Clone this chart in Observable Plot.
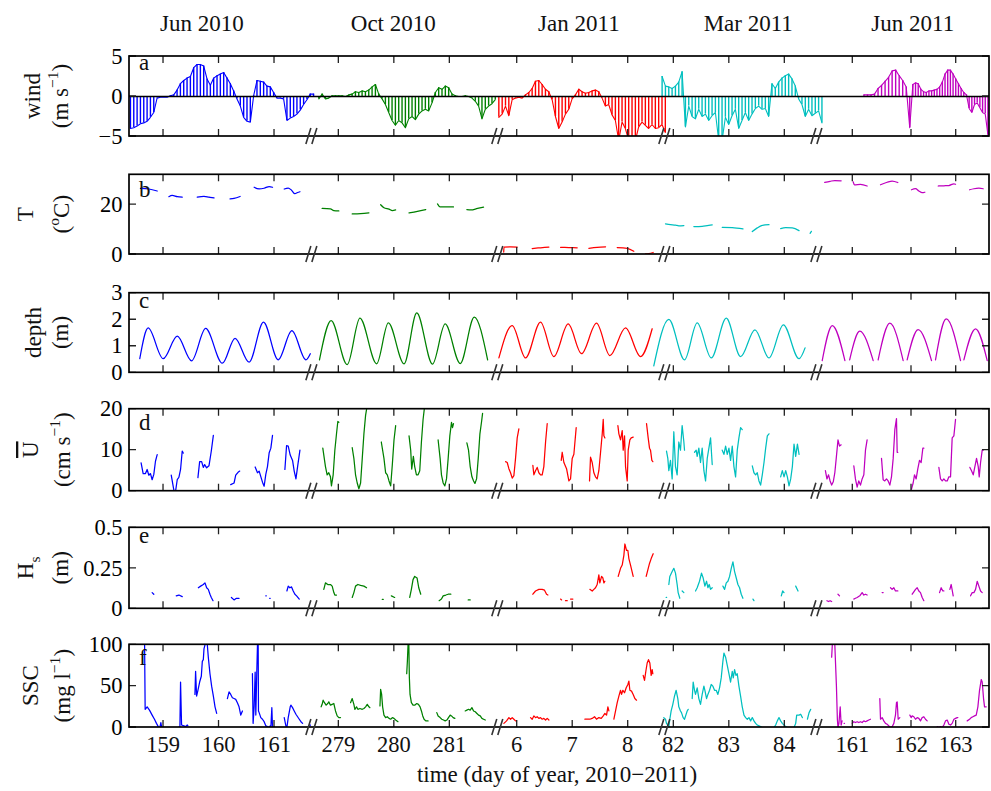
<!DOCTYPE html>
<html><head><meta charset="utf-8">
<script src="https://cdn.jsdelivr.net/npm/d3@7"></script>
<script src="https://cdn.jsdelivr.net/npm/@observablehq/plot@0.6"></script>
<style>
body{margin:0;background:#fff;}
#chart{position:relative;width:991px;height:791px;}
#chart svg{position:absolute;left:0;top:0;}
</style></head><body><div id="chart"></div>
<script>
// ---------------- categories / ticks ----------------
const deployments = ["Jun 2010", "Oct 2010", "Jan 2011", "Mar 2011", "Jun 2011"];
const colors = ["#0000ff", "#008000", "#ff0000", "#00bfbf", "#bf00bf"];
const tickDays = [[159,160,161],[279,280,281],[6,7,8],[82,83,84],[161,162,163]];
const labelDays = [159.70, 279.99, 7.12, 83.35, 162.04];

// ---------------- wind (m/s), regular samples ----------------
const windStart = [158.404, 278.639, 5.669, 81.789, 161.19];
const windStep = 0.06;
const windBlue = [-4.0,-3.9,-3.7,-3.4,-3.3,-3.1,-2.6,-2.0,-0.2,-0.1,-0.1,-0.1,0.1,0.2,0.8,1.6,2.0,2.3,2.5,3.6,4.0,4.0,3.8,2.2,1.4,2.3,2.6,2.8,3.0,2.3,1.6,0.7,-0.3,-1.2,-2.6,-3.1,-3.2,0.1,2.0,1.9,1.8,1.3,1.2,0.5,-0.2,-0.2,-0.3,-3.0,-2.7,-2.5,-2.2,-1.7,-1.0,-0.4,0.3,0.3];
const windGreen = [-0.3,0.3,-0.3,-0.2,0.1,0.1,0.1,0.1,0.0,0.2,0.3,0.6,0.5,0.7,0.6,0.8,1.2,1.5,0.3,-0.3,-1.0,-2.0,-3.0,-3.6,-3.0,-3.3,-3.9,-2.8,-2.5,-2.9,-2.2,-1.8,-1.6,-1.8,-0.8,0.5,1.1,0.9,1.3,1.1,0.3,0.1,0.0,0.0,0.1,0.0,-0.2,-0.6,-1.2,-2.8,-1.6,-1.2,-0.9,-0.4];
const windRed = [-2.6,-2.2,-1.2,-2.4,-0.4,-0.2,-0.1,-0.2,0.2,0.5,1.0,1.9,2.0,1.5,0.9,0.6,-0.4,-2.5,-4.0,-3.2,-2.2,-1.6,-0.3,0.2,0.9,0.6,0.4,0.5,0.7,0.8,0.6,-0.2,-1.2,-1.0,-2.3,-3.0,-5.5,-3.2,-4.0,-5.5,-5.5,-5.5,-3.8,-3.2,-3.6,-4.0,-3.5,-4.0,-3.9,-3.5,-4.5];
const windCyan = [2.5,1.3,1.2,1.0,1.3,1.8,3.1,-3.8,-1.2,-2.5,-2.8,-1.6,-2.5,-2.2,-3.0,-2.4,-2.0,-5.5,-5.5,-2.6,-3.5,-2.4,-1.6,-4.0,-3.0,-2.0,-3.0,-2.2,-1.5,-1.2,-1.6,-1.5,-2.5,1.6,1.0,1.8,2.3,2.6,2.8,2.2,1.3,-0.3,-1.0,-2.5,-1.6,-2.4,-2.1,-1.8,-3.3];
const windMagenta = [0.2,0.2,0.2,0.3,1.0,1.4,1.9,2.4,3.2,3.3,2.6,2.0,1.2,-3.9,1.5,1.7,1.6,0.9,0.6,0.5,0.7,0.7,0.8,0.9,1.2,1.8,2.8,3.3,3.3,2.8,2.2,1.6,1.0,0.5,0.2,-1.5,-2.0,-1.0,-0.8,-1.4,-2.0,-2.2,-4.8];

// ---------------- temperature (degC): bursts of [day, value] ----------------
const tempBlue = [
 [[158.584,26.5],[158.735,26.3],[158.886,25.5]],
 [[159.096,23.2],[159.157,23.7],[159.247,23.2],[159.337,23.0]],
 [[159.608,23.0],[159.729,23.3],[159.819,23.0],[159.910,22.7]],
 [[160.199,22.3],[160.271,22.5],[160.380,23.3]],
 [[160.633,27.0],[160.723,26.3],[160.813,26.6],[160.904,27.3],[160.964,27.0]],
 [[161.175,26.3],[161.247,26.7],[161.307,25.8],[161.367,24.4],[161.416,24.9],[161.458,25.2]]];
const tempGreen = [
 [[278.699,18.5],[278.849,18.3],[278.910,17.6],[279.0,17.5]],
 [[279.241,16.3],[279.392,16.4],[279.542,16.7]],
 [[279.753,20.0],[279.813,18.8],[279.904,18.2],[279.964,17.6],[280.024,17.9]],
 [[280.265,16.7],[280.416,17.3],[280.566,18.0]],
 [[280.777,20.3],[280.825,19.1],[280.928,19.1],[281.066,19.1]],
 [[281.307,18.0],[281.380,17.9],[281.5,18.5],[281.608,19.0]]];
const tempRed = [
 [[5.757,1.0],[5.762,3.0],[5.880,3.1],[6.0,3.0]],
 [[6.270,2.4],[6.420,2.7],[6.571,3.0]],
 [[6.781,2.9],[6.931,2.8],[7.081,2.7]],
 [[7.291,2.5],[7.441,2.9],[7.592,3.1]],
 [[7.802,2.8],[7.982,2.5],[8.102,1.3]],
 [[8.312,0.3],[8.372,0.4],[8.450,0.8]]];
const tempCyan = [
 [[81.850,12.3],[81.940,12.0],[82.030,11.8],[82.090,11.5],[82.181,11.6]],
 [[82.361,11.2],[82.511,11.3],[82.602,11.6],[82.692,11.9]],
 [[82.872,10.9],[83.053,10.8],[83.246,10.3]],
 [[83.414,9.2],[83.504,10.7],[83.594,11.7],[83.715,12.0]],
 [[83.925,10.4],[84.016,10.8],[84.136,10.7],[84.256,9.6]],
 [[84.455,8.5],[84.479,9.3]]];
const tempMagenta = [
 [[160.494,29.0],[160.591,29.4],[160.676,29.7],[160.790,29.6]],
 [[161.006,29.2],[161.028,28.0],[161.131,28.2],[161.244,27.5]],
 [[161.472,28.0],[161.585,29.0],[161.670,29.5],[161.767,28.9]],
 [[162.0,26.0],[162.090,26.4],[162.164,25.5],[162.239,24.8],[162.299,25.0]],
 [[162.597,27.5],[162.724,27.6],[162.836,27.7],[162.948,28.4],[162.985,28.2]],
 [[163.299,26.0],[163.396,26.4],[163.507,26.6],[163.604,26.4]]];

// ---------------- depth (m): tidal highs and lows ----------------
const depthBlue = [[[158.572,0.53],[158.723,1.69],[158.994,0.53],[159.247,1.38],[159.506,0.45],[159.759,1.67],[160.060,0.36],[160.289,1.30],[160.542,0.40],[160.801,1.91],[161.066,0.49],[161.313,1.59],[161.566,0.49],[161.645,0.72]]];
const depthGreen = [[[278.651,0.49],[278.861,1.97],[279.151,0.31],[279.380,2.06],[279.681,0.34],[279.892,1.88],[280.175,0.34],[280.404,2.26],[280.687,0.33],[280.916,1.84],[281.187,0.35],[281.440,2.10],[281.681,0.49]]];
const depthRed = [[[5.670,0.56],[5.910,1.78],[6.150,0.56],[6.420,1.91],[6.661,0.61],[6.919,1.84],[7.159,0.72],[7.429,1.87],[7.670,0.65],[7.952,1.69],[8.222,0.61],[8.432,1.66]]];
const depthCyan = [[[81.639,0.26],[81.910,2.01],[82.193,0.49],[82.421,1.88],[82.674,0.56],[82.945,2.06],[83.203,0.61],[83.462,1.62],[83.715,0.56],[83.974,1.81],[84.256,0.53],[84.365,0.94]]];
const depthMagenta = [
 [[160.449,0.46],[160.631,1.78],[160.858,0.46]],
 [[160.943,0.49],[161.119,1.57],[161.347,0.46]],
 [[161.432,0.49],[161.631,1.87],[161.858,0.46]],
 [[161.926,0.49],[162.149,1.63],[162.448,0.46]],
 [[162.537,0.49],[162.776,2.03],[163.097,0.46]],
 [[163.172,0.49],[163.433,1.66],[163.694,0.46]]];

// ---------------- depth-mean current U (cm/s) ----------------
const uBlue = [
 [[158.596,6.9],[158.633,4.3],[158.675,4.3],[158.705,5.3],[158.735,3.9],[158.765,4.3],[158.795,2.8],[158.825,4.1],[158.855,7.3],[158.886,8.9]],
 [[159.139,3.9],[159.187,0.2],[159.217,0.0],[159.247,2.8],[159.277,3.4],[159.307,5.3],[159.337,9.8],[159.355,9.3]],
 [[159.620,3.3],[159.651,7.2],[159.687,7.2],[159.717,5.8],[159.741,6.5],[159.777,5.7],[159.819,6.2],[159.861,9.8],[159.898,13.6]],
 [[160.211,1.6],[160.271,2.0],[160.301,3.9],[160.343,4.6],[160.373,4.9]],
 [[160.651,5.9],[160.693,4.5],[160.723,4.9],[160.783,2.2],[160.813,1.2],[160.843,4.1],[160.873,6.0],[160.904,9.4],[160.934,10.5],[160.964,13.6]],
 [[161.187,5.3],[161.217,11.1],[161.247,11.0],[161.283,8.8],[161.325,7.5],[161.355,4.9],[161.386,3.0],[161.416,6.0],[161.458,10.0]]];
const uGreen = [
 [[278.711,10.5],[278.759,6.0],[278.789,4.0],[278.819,4.5],[278.849,3.5],[278.867,1.3],[278.898,4.0],[278.928,10.0],[278.958,14.0],[278.982,17.0],[279.0,16.8]],
 [[279.241,10.6],[279.271,8.0],[279.301,4.0],[279.331,2.0],[279.361,0.6],[279.392,2.0],[279.422,8.0],[279.452,14.0],[279.482,18.5],[279.512,21.0]],
 [[279.765,12.0],[279.813,8.0],[279.843,4.5],[279.873,4.0],[279.904,2.5],[279.934,1.3],[279.964,6.5],[279.994,12.5],[280.024,16.0]],
 [[280.265,13.5],[280.295,10.0],[280.313,5.4],[280.343,8.5],[280.367,6.0],[280.398,4.0],[280.428,4.0],[280.458,5.0],[280.488,12.0],[280.518,17.5],[280.548,21.0]],
 [[280.789,12.5],[280.825,8.0],[280.849,4.0],[280.880,2.0],[280.910,1.3],[280.940,3.0],[280.970,8.0],[281.0,13.5],[281.030,16.8],[281.048,15.5],[281.066,16.5]],
 [[281.307,11.8],[281.337,10.0],[281.367,6.0],[281.398,3.5],[281.428,2.5],[281.452,1.9],[281.482,3.0],[281.512,8.0],[281.542,14.0],[281.572,17.0],[281.590,19.0]]];
const uRed = [
 [[5.790,7.2],[5.820,7.0],[5.850,5.5],[5.880,4.5],[5.910,3.2],[5.940,3.8],[5.970,8.0],[6.0,13.0],[6.030,15.2]],
 [[6.282,6.3],[6.300,4.0],[6.330,5.0],[6.360,5.8],[6.390,4.5],[6.420,4.0],[6.450,4.0],[6.480,6.0],[6.511,12.0],[6.541,16.5]],
 [[6.793,7.5],[6.811,9.5],[6.841,7.0],[6.889,5.5],[6.931,2.5],[6.961,3.0],[6.991,8.0],[7.021,9.0],[7.063,15.5]],
 [[7.303,2.5],[7.321,8.3],[7.351,7.0],[7.381,4.5],[7.411,3.5],[7.441,3.0],[7.471,5.0],[7.502,9.5],[7.532,14.0],[7.550,17.5],[7.562,13.5],[7.580,13.0]],
 [[7.814,16.0],[7.832,14.0],[7.862,12.5],[7.892,14.8],[7.910,10.0],[7.934,13.5],[7.952,6.0],[7.982,2.5],[8.0,10.0],[8.030,12.5],[8.054,13.0],[8.090,13.2]],
 [[8.330,16.5],[8.360,13.0],[8.384,10.5],[8.402,10.0],[8.426,7.5],[8.444,7.2]]];
const uCyan = [
 [[81.868,9.8],[81.892,8.0],[81.910,5.0],[81.940,7.5],[81.970,3.0],[82.0,14.5],[82.030,6.0],[82.060,4.0],[82.090,12.0],[82.120,10.0],[82.150,16.0],[82.181,12.0],[82.193,10.0]],
 [[82.373,9.5],[82.403,10.0],[82.421,8.5],[82.451,10.5],[82.481,7.0],[82.511,10.5],[82.542,5.0],[82.572,2.5],[82.602,8.0],[82.632,10.5],[82.662,13.0],[82.692,6.5]],
 [[82.872,10.0],[82.903,9.0],[82.933,11.0],[82.963,9.0],[82.993,10.5],[83.023,7.5],[83.053,11.0],[83.083,6.0],[83.113,3.5],[83.143,10.0],[83.173,13.0],[83.203,15.5],[83.233,15.0]],
 [[83.414,6.2],[83.444,4.5],[83.474,4.0],[83.504,4.5],[83.534,2.5],[83.564,1.5],[83.594,4.0],[83.625,7.0],[83.655,10.5],[83.685,13.5],[83.715,14.0]],
 [[83.925,3.5],[83.955,5.0],[83.986,3.5],[84.016,5.0],[84.046,3.5],[84.076,1.3],[84.106,3.0],[84.136,6.0],[84.166,11.5],[84.196,8.5],[84.227,11.5],[84.257,9.0]]];
const uMagenta = [
 [[160.506,5.0],[160.534,3.0],[160.563,4.0],[160.591,2.5],[160.619,1.5],[160.648,2.3],[160.676,4.5],[160.705,8.5],[160.733,12.5],[160.761,11.0],[160.790,11.3]],
 [[161.017,6.2],[161.045,3.0],[161.074,1.0],[161.102,2.5],[161.131,1.5],[161.159,3.0],[161.188,4.0],[161.216,10.0],[161.244,12.5]],
 [[161.489,8.0],[161.517,2.8],[161.545,2.5],[161.574,3.0],[161.602,2.5],[161.631,1.5],[161.659,3.5],[161.688,8.0],[161.716,15.0],[161.744,17.7],[161.756,9.5],[161.767,9.5]],
 [[162.0,0.5],[162.037,2.0],[162.067,4.0],[162.104,3.0],[162.142,5.5],[162.179,7.5],[162.216,7.0],[162.254,10.5],[162.276,10.5]],
 [[162.612,5.8],[162.649,3.0],[162.687,2.5],[162.724,3.0],[162.761,2.5],[162.799,2.5],[162.836,3.5],[162.873,3.5],[162.910,13.0],[162.948,13.5],[162.985,17.5]],
 [[163.306,5.8],[163.343,5.0],[163.381,4.0],[163.418,6.0],[163.455,8.0],[163.493,6.0],[163.515,3.5],[163.545,7.0],[163.582,10.0],[163.604,10.0]]];

// ---------------- significant wave height Hs (m) ----------------
const hsBlue = [
 [[158.795,0.10],[158.825,0.09]],
 [[159.229,0.08],[159.277,0.085],[159.337,0.075]],
 [[159.627,0.13],[159.669,0.14],[159.717,0.15],[159.747,0.16],[159.777,0.13],[159.807,0.12],[159.837,0.09],[159.861,0.07],[159.892,0.05]],
 [[160.223,0.07],[160.271,0.055],[160.313,0.065],[160.361,0.065]],
 [[160.843,0.08],[160.852,0.08]],
 [[160.913,0.065],[160.922,0.065]],
 [[161.223,0.11],[161.247,0.14],[161.277,0.13],[161.307,0.135],[161.337,0.11],[161.367,0.09],[161.398,0.08],[161.446,0.06]]];
const hsGreen = [
 [[278.729,0.12],[278.759,0.16],[278.801,0.15],[278.849,0.15],[278.880,0.14],[278.910,0.10],[278.928,0.085],[278.958,0.085]],
 [[279.241,0.07],[279.271,0.10],[279.301,0.14],[279.343,0.15],[279.392,0.145],[279.452,0.14],[279.500,0.13]],
 [[279.783,0.058],[279.800,0.058]],
 [[279.946,0.08],[280.006,0.07]],
 [[280.277,0.07],[280.307,0.12],[280.337,0.18],[280.367,0.20],[280.410,0.19],[280.440,0.13],[280.476,0.09]],
 [[280.807,0.05],[280.849,0.06],[280.880,0.08],[280.928,0.085],[280.970,0.09],[281.018,0.09]],
 [[281.331,0.055],[281.367,0.055]]];
const hsRed = [
 [[6.282,0.09],[6.330,0.11],[6.390,0.12],[6.450,0.12],[6.492,0.115],[6.529,0.09],[6.553,0.085]],
 [[6.781,0.06],[6.800,0.055]],
 [[6.870,0.05],[6.901,0.05]],
 [[6.961,0.06],[7.003,0.06]],
 [[7.309,0.12],[7.351,0.11],[7.381,0.12],[7.411,0.13],[7.441,0.15],[7.471,0.21],[7.489,0.16],[7.520,0.2],[7.544,0.19],[7.562,0.16],[7.580,0.17]],
 [[7.820,0.2],[7.862,0.25],[7.892,0.27],[7.922,0.33],[7.940,0.40],[7.970,0.36],[7.994,0.36],[8.012,0.31],[8.042,0.27],[8.090,0.2]],
 [[8.324,0.2],[8.354,0.24],[8.384,0.28],[8.414,0.31],[8.450,0.34]]];
const hsCyan = [
 [[81.862,0.07],[81.870,0.07]],
 [[81.910,0.15],[81.928,0.2],[81.970,0.23],[82.0,0.25],[82.030,0.22],[82.060,0.15],[82.078,0.1],[82.108,0.065]],
 [[82.150,0.11],[82.181,0.1]],
 [[82.391,0.11],[82.421,0.13],[82.463,0.17],[82.499,0.22],[82.529,0.19],[82.560,0.14],[82.590,0.17],[82.614,0.13],[82.638,0.15],[82.662,0.12],[82.692,0.13]],
 [[82.884,0.14],[82.915,0.12],[82.945,0.16],[82.975,0.17],[83.005,0.2],[83.035,0.25],[83.065,0.29],[83.095,0.23],[83.125,0.19],[83.155,0.15],[83.185,0.13],[83.215,0.09],[83.245,0.065]],
 [[83.426,0.06],[83.444,0.05]],
 [[83.937,0.08],[83.961,0.11],[83.986,0.1]],
 [[84.196,0.14],[84.238,0.11]]];
const hsMagenta = [
 [[160.534,0.05],[160.563,0.045],[160.591,0.05],[160.619,0.045]],
 [[160.733,0.09],[160.761,0.08]],
 [[161.017,0.06],[161.045,0.065],[161.074,0.07],[161.119,0.08],[161.159,0.1],[161.188,0.085],[161.216,0.09],[161.244,0.085]],
 [[161.500,0.1],[161.517,0.1]],
 [[161.642,0.13],[161.670,0.12],[161.699,0.13],[161.727,0.11],[161.767,0.11]],
 [[162.015,0.09],[162.052,0.105],[162.090,0.12],[162.127,0.13],[162.164,0.11],[162.201,0.1],[162.239,0.07],[162.276,0.05]],
 [[162.627,0.1],[162.664,0.13],[162.701,0.11],[162.724,0.11]],
 [[162.858,0.12],[162.888,0.15],[162.933,0.08]],
 [[163.321,0.08],[163.358,0.1],[163.396,0.1],[163.433,0.12],[163.470,0.17],[163.507,0.14],[163.545,0.11],[163.582,0.1]]];

// ---------------- suspended sediment concentration (mg/l) ----------------
const sscBlue = [
 [[158.657,115],[158.669,22],[158.705,25],[158.747,21],[158.795,15],[158.837,10],[158.873,5],[158.910,0.5],[158.934,0],[158.952,6],[158.964,1]],
 [[159.277,0.5],[159.295,0],[159.307,55],[159.325,3],[159.367,2],[159.398,1],[159.428,3],[159.440,2]],
 [[159.566,40],[159.578,68],[159.596,38],[159.620,45],[159.651,55],[159.681,62],[159.699,80],[159.717,82],[159.729,95],[159.747,100],[159.771,110],[159.789,100],[159.807,85],[159.837,65],[159.867,50],[159.898,38],[159.928,25],[159.958,17]],
 [[160.151,35],[160.181,43],[160.211,40],[160.241,36],[160.271,35],[160.301,34],[160.331,30],[160.361,25],[160.392,15],[160.422,20]],
 [[160.602,65],[160.614,5],[160.633,25],[160.651,67],[160.663,15],[160.681,68],[160.693,100],[160.705,110],[160.711,20],[160.723,18],[160.753,12],[160.783,10],[160.813,7],[160.843,2],[160.873,1],[160.892,0],[160.922,2],[160.934,0],[160.952,24],[160.964,0],[160.982,0],[160.994,1]],
 [[161.175,12],[161.205,2],[161.223,0],[161.247,12],[161.283,25],[161.295,27],[161.325,24],[161.355,20],[161.386,16],[161.416,13],[161.446,10],[161.476,7],[161.506,5]],
 [[161.626,0.5],[161.645,3]]];
const sscGreen = [
 [[278.681,25],[278.699,28],[278.717,33],[278.741,30],[278.771,27],[278.801,29],[278.819,31],[278.849,27],[278.880,28],[278.910,29],[278.940,20],[278.970,14],[279.0,12],[279.030,12]],
 [[279.211,30],[279.241,35],[279.271,28],[279.289,22],[279.319,25],[279.343,22],[279.380,23],[279.422,22],[279.452,23],[279.482,25],[279.512,28],[279.542,25],[279.560,24]],
 [[279.741,26],[279.753,46],[279.771,40],[279.789,25],[279.813,15],[279.843,12],[279.873,13],[279.904,11],[279.934,10],[279.964,12],[279.994,11],[280.024,9],[280.066,7]],
 [[280.223,65],[280.235,80],[280.247,100],[280.259,110],[280.271,60],[280.283,40],[280.307,30],[280.337,27],[280.367,27],[280.404,29],[280.434,28],[280.464,25],[280.488,20],[280.512,14],[280.536,10],[280.566,8],[280.608,8]],
 [[280.765,18],[280.789,14],[280.825,12],[280.855,10],[280.886,9],[280.916,8],[280.946,9],[280.976,12],[281.006,15],[281.030,14],[281.060,12],[281.090,11]],
 [[281.277,20],[281.307,21],[281.337,22],[281.367,21],[281.398,24],[281.428,20],[281.458,19],[281.488,17],[281.518,15],[281.548,14],[281.578,11],[281.608,10],[281.639,9]]];
const sscRed = [
 [[5.760,5],[5.808,8],[5.850,12],[5.880,10],[5.910,12],[5.940,10],[5.970,8],[5.988,8]],
 [[6.240,12],[6.270,10],[6.300,14],[6.330,12],[6.360,13],[6.390,11],[6.420,12],[6.450,10],[6.480,11],[6.511,9],[6.541,11],[6.571,9]],
 [[7.219,10],[7.261,10],[7.309,10],[7.351,11],[7.393,13],[7.429,10],[7.471,12],[7.514,11],[7.550,14],[7.580,17],[7.610,15],[7.634,25],[7.652,20]],
 [[7.742,10],[7.772,20],[7.802,30],[7.832,38],[7.862,45],[7.880,40],[7.904,45],[7.934,42],[7.964,48],[7.994,52],[8.012,56],[8.030,45],[8.060,44],[8.090,40],[8.120,35],[8.150,33]],
 [[8.270,63],[8.294,57],[8.318,68],[8.342,78],[8.366,82],[8.390,78],[8.414,63],[8.432,70],[8.444,65]]];
const sscCyan = [
 [[81.819,12],[81.850,10],[81.868,5],[81.892,3],[81.910,0],[81.928,10],[81.952,20],[81.982,28],[82.012,38],[82.042,45],[82.072,35],[82.090,25],[82.120,20],[82.138,18],[82.168,12],[82.193,10],[82.217,15],[82.241,20],[82.259,22]],
 [[82.331,35],[82.349,55],[82.373,45],[82.391,40],[82.421,48],[82.451,35],[82.481,28],[82.511,40],[82.542,50],[82.560,45],[82.590,35],[82.614,40],[82.644,45],[82.674,52],[82.704,50],[82.734,45],[82.764,45],[82.794,40],[82.824,48],[82.854,60],[82.884,80],[82.903,90],[82.933,85],[82.963,75],[82.993,65],[83.023,55],[83.053,68],[83.071,60],[83.095,70],[83.119,63],[83.143,65],[83.173,50],[83.203,38],[83.233,25],[83.264,15],[83.294,12],[83.324,10],[83.354,12],[83.384,8],[83.414,12],[83.444,8],[83.474,5],[83.504,3],[83.534,2],[83.564,1],[83.594,0],[83.805,0],[83.835,3],[83.865,8],[83.895,12],[83.925,8],[83.955,5],[83.986,3],[84.016,1],[84.046,0],[84.166,0],[84.196,5],[84.214,15],[84.256,15],[84.286,16],[84.316,12]],
 [[84.407,10],[84.437,18],[84.467,22]]];
const sscMagenta = [
 [[160.619,85],[160.631,100],[160.648,110],[160.665,110],[160.676,100],[160.705,50],[160.722,10],[160.733,0],[160.750,5],[160.773,25],[160.790,3],[160.807,8]],
 [[160.843,5],[160.850,5]],
 [[160.989,5],[161.017,7],[161.045,6],[161.074,7],[161.102,6],[161.131,7],[161.159,6],[161.188,8],[161.216,7],[161.244,8],[161.273,9],[161.301,10]],
 [[161.460,35],[161.472,10],[161.500,12],[161.528,8],[161.557,5],[161.585,4],[161.614,2],[161.642,0],[161.670,1],[161.699,5],[161.727,15],[161.744,30],[161.756,31],[161.773,10],[161.801,12]],
 [[161.972,15],[161.994,12],[162.015,14],[162.052,13],[162.090,10],[162.127,12],[162.164,11],[162.201,8],[162.239,12],[162.276,13],[162.313,10],[162.351,8]],
 [[162.575,1],[162.612,0],[162.649,1],[162.687,0],[162.724,3],[162.761,8],[162.799,9],[162.836,4],[162.873,3],[162.910,5],[162.948,10],[162.985,11],[163.022,12],[163.037,12]],
 [[163.246,8],[163.299,10],[163.336,12],[163.373,13],[163.410,14],[163.448,15],[163.485,25],[163.522,45],[163.560,58],[163.582,55],[163.612,35],[163.634,25],[163.672,25]]];

// ---------------- layout (broken time axis) ----------------
const W = 991, H = 791;
const FONT = "'Liberation Serif','Times New Roman',Times,serif";
const axisShift = [0, -116.841, 159.373, 86.195, 10.420];   // places each deployment on the broken axis
const xDomain = [158.387, 171.42, 172.42, 173.42, 174.165];
const xRange = [129, 852.3, 911, 955.7, 989];
const breakAx = [161.70, 165.05, 168.06, 170.80];
const allTicksAx = tickDays.flatMap((ts, k) => ts.map(t => t + axisShift[k]));

const fmt = d => (d < 0 ? "\u2212" : "") + Math.abs(d);

function toRecords(bursts, k) {
  const out = [];
  bursts.forEach((b, j) => b.forEach(([t, v]) => out.push({ax: t + axisShift[k], v, z: j})));
  return out;
}

function frameMark(yTicks) {
  return (index, scales, values, dims) => {
    const x = scales.x, y = scales.y;
    const L = dims.marginLeft, R = dims.width - dims.marginRight;
    const T = dims.marginTop, B = dims.height - dims.marginBottom;
    const g = d3.create("svg:g").attr("fill", "none").attr("stroke", "#000");
    let p = "";
    for (const t of allTicksAx) { const px = x(t); p += `M${px},${B}v-7M${px},${T}v7`; }
    for (const t of yTicks) { const py = y(t); p += `M${L},${py}h7M${R},${py}h-7`; }
    g.append("path").attr("d", p).attr("stroke-width", 1.3).attr("stroke", "#222");
    g.append("rect").attr("x", L).attr("y", T).attr("width", R - L).attr("height", B - T).attr("stroke-width", 1.7);
    let q = "";
    for (const b of breakAx) {
      const px = x(b);
      q += `M${px - 7},${B + 8}L${px - 2},${B - 8}M${px - 1},${B + 8}L${px + 4},${B - 8}`;
    }
    g.append("path").attr("d", q).attr("stroke", "#333").attr("stroke-width", 1.6);
    return g.node();
  };
}

const panels = [
  {top: 56, bottom: 136, domain: [-5, 5], ticks: [-5, 0, 5], wind: true,
   series: [windBlue, windGreen, windRed, windCyan, windMagenta]},
  {top: 174.3, bottom: 254, domain: [0, 32], ticks: [0, 20], curve: "monotone-x",
   series: [tempBlue, tempGreen, tempRed, tempCyan, tempMagenta]},
  {top: 292.7, bottom: 372.3, domain: [0, 3], ticks: [0, 1, 2, 3], curve: "monotone-x",
   series: [depthBlue, depthGreen, depthRed, depthCyan, depthMagenta]},
  {top: 408.7, bottom: 490.7, domain: [0, 20], ticks: [0, 10, 20],
   series: [uBlue, uGreen, uRed, uCyan, uMagenta]},
  {top: 527.3, bottom: 608.3, domain: [0, 0.5], ticks: [0, 0.25, 0.5],
   series: [hsBlue, hsGreen, hsRed, hsCyan, hsMagenta]},
  {top: 644.3, bottom: 727, domain: [0, 100], ticks: [0, 50, 100],
   series: [sscBlue, sscGreen, sscRed, sscCyan, sscMagenta]}
];

const root = document.getElementById("chart");
const plots = panels.map(p => {
  const marks = [];
  if (p.wind) {
    p.series.forEach((vals, k) => {
      const recs = vals.map((v, i) => ({ax: windStart[k] + i * windStep + axisShift[k], v}));
      marks.push(Plot.ruleX(recs, {x: "ax", y1: 0, y2: "v", stroke: colors[k], strokeWidth: 1.4, clip: true}));
      marks.push(Plot.line(recs, {x: "ax", y: "v", stroke: colors[k], strokeWidth: 1.1, clip: true}));
    });
    marks.push(Plot.ruleY([0], {stroke: "#000", strokeWidth: 1.6}));
  } else {
    p.series.forEach((bursts, k) => {
      marks.push(Plot.line(toRecords(bursts, k), {x: "ax", y: "v", z: "z", stroke: colors[k], strokeWidth: 1.25, curve: p.curve || "linear", clip: true}));
    });
  }
  marks.push(Plot.axisY({ticks: p.ticks, tickSize: 0, tickPadding: 7, tickFormat: fmt, fontSize: 22.5, label: null}));
  marks.push(frameMark(p.ticks));
  const plot = Plot.plot({
    width: W, height: H,
    marginTop: p.top, marginBottom: H - p.bottom, marginLeft: 129, marginRight: 2,
    x: {type: "linear", domain: xDomain, range: xRange, axis: null},
    y: {domain: p.domain, label: null},
    style: {fontFamily: FONT, background: "transparent", overflow: "visible"},
    marks
  });
  root.appendChild(plot);
  return plot;
});

// ---------------- text overlay ----------------
const xs = plots[0].scale("x");
const ov = d3.create("svg").attr("width", W).attr("height", H)
  .attr("font-family", FONT).attr("font-size", 23).attr("fill", "#111");

deployments.forEach((name, k) => {
  ov.append("text").attr("x", xs.apply(labelDays[k] + axisShift[k])).attr("y", 31)
    .attr("text-anchor", "middle").text(name);
});
tickDays.forEach((ts, k) => ts.forEach(t => {
  ov.append("text").attr("x", xs.apply(t + axisShift[k])).attr("y", 752)
    .attr("text-anchor", "middle").attr("font-size", 22.5).text(t);
}));
ov.append("text").attr("x", 557).attr("y", 782).attr("text-anchor", "middle")
  .text("time (day of year, 2010\u22122011)");

const letters = [["a", 70], ["b", 196.7], ["c", 308], ["d", 430], ["e", 543], ["f", 665]];
letters.forEach(([s, yb]) => ov.append("text").attr("x", 139).attr("y", yb).text(s));

function rich(sel, parts, fs) {
  let shift = 0;
  for (const [s, kind] of parts) {
    const t = sel.append("tspan").text(s);
    const target = kind === "sup" ? -0.42 * fs : kind === "sub" ? 0.3 * fs : 0;
    if (target !== shift) { t.attr("dy", target - shift); shift = target; }
    if (kind === "sup" || kind === "sub") t.attr("font-size", fs * 0.68);
    if (kind === "over") t.attr("text-decoration", "overline");
  }
}
const yLabels = [
  [[40, [["wind"]]], [68, [["(m s"], ["\u22121", "sup"], [")"]]]],
  [[33, [["T"]]], [69, [["("], ["o", "sup"], ["C)"]]]],
  [[41, [["depth"]]], [68, [["(m)"]]]],
  [[38, [["U", "over"]]], [70, [["(cm s"], ["\u22121", "sup"], [")"]]]],
  [[33, [["H"], ["s", "sub"]]], [68, [["(m)"]]]],
  [[38, [["SSC"]]], [70, [["(mg l"], ["\u22121", "sup"], [")"]]]]
];
panels.forEach((p, i) => {
  const cy = (p.top + p.bottom) / 2;
  yLabels[i].forEach(([bx, parts]) => {
    const t = ov.append("text").attr("text-anchor", "middle")
      .attr("transform", `translate(${bx},${cy}) rotate(-90)`);
    rich(t, parts, 23);
  });
});
root.appendChild(ov.node());
</script></body></html>
